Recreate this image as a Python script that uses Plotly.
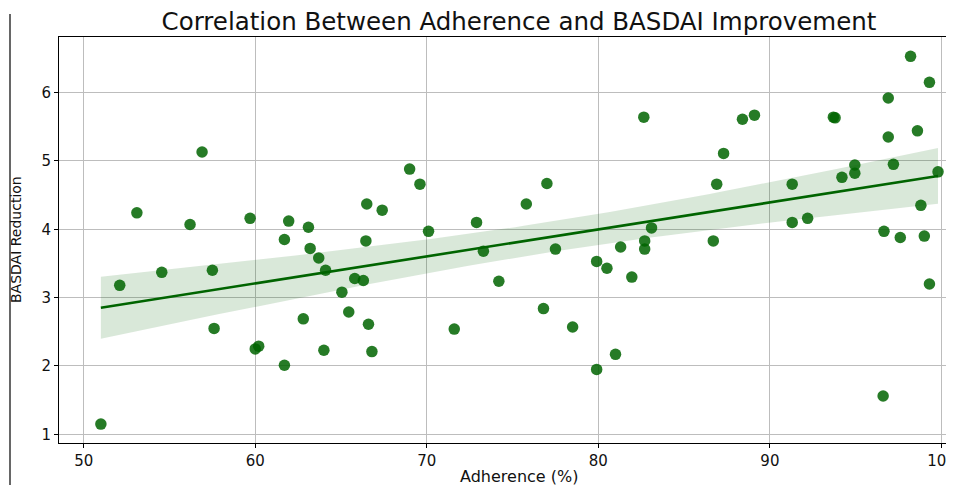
import numpy as np
import plotly.graph_objects as go

# Adherence (%) and BASDAI reduction
adherence = [51.0, 52.1, 53.1, 54.55, 56.2, 56.9, 57.5, 57.6, 59.7, 60.0,
             60.2, 61.7, 61.7, 61.95, 62.8, 63.1, 63.2, 63.7, 64.0, 64.1,
             65.05, 65.45, 65.8, 66.3, 66.45, 66.5, 66.6, 66.8, 67.4, 69.0,
             69.6, 70.1, 71.6, 72.9, 73.3, 74.2, 75.8, 76.8, 77.0, 77.5,
             78.5, 79.9, 79.9, 80.5, 81.0, 81.3, 81.95, 82.65, 82.7, 82.7,
             83.1, 86.7, 86.9, 87.3, 88.4, 89.1, 91.3, 91.3, 92.2, 93.7,
             93.8, 94.2, 94.95, 94.95, 96.6, 96.65, 96.9, 96.9, 97.2, 97.6,
             98.2, 98.6, 98.8, 99.0, 99.3, 99.3, 99.8]
basdai = [1.15, 3.18, 4.24, 3.37, 4.07, 5.13, 3.40, 2.55, 4.16, 2.25,
          2.29, 2.01, 3.85, 4.12, 2.69, 4.03, 3.72, 3.58, 2.23, 3.40,
          3.08, 2.79, 3.28, 3.25, 3.83, 4.37, 2.61, 2.21, 4.28, 4.88,
          4.66, 3.97, 2.54, 4.10, 3.68, 3.24, 4.37, 2.84, 4.67, 3.71,
          2.57, 3.53, 1.95, 3.43, 2.17, 3.74, 3.30, 5.64, 3.71, 3.83,
          4.02, 3.83, 4.66, 5.11, 5.61, 5.67, 4.10, 4.66, 4.16, 5.64,
          5.63, 4.76, 4.94, 4.82, 1.56, 3.97, 5.92, 5.35, 4.95, 3.88,
          6.53, 5.44, 4.35, 3.90, 3.20, 6.15, 4.84]

x_ticks = [50, 60, 70, 80, 90, 100]
y_ticks = [1, 2, 3, 4, 5, 6]

title_text = "Correlation Between Adherence and BASDAI Improvement"
x_label = "Adherence (%)"
y_label = "BASDAI Reduction"

# Linear regression fit with 95% confidence band (as seaborn regplot)
xa = np.array(adherence)
ya = np.array(basdai)
n = len(xa)
slope, intercept = np.polyfit(xa, ya, 1)
grid = np.linspace(xa.min(), xa.max(), 100)
fit = intercept + slope * grid
resid = ya - (intercept + slope * xa)
s = np.sqrt(np.sum(resid ** 2) / (n - 2))
sxx = np.sum((xa - xa.mean()) ** 2)
se = s * np.sqrt(1.0 / n + (grid - xa.mean()) ** 2 / sxx)
t_crit = 1.992
upper = fit + t_crit * se
lower = fit - t_crit * se

fig = go.Figure()
fig.add_trace(go.Scatter(
    x=np.concatenate([grid, grid[::-1]]),
    y=np.concatenate([upper, lower[::-1]]),
    fill="toself", fillcolor="rgba(0,100,0,0.15)",
    line=dict(width=0), mode="lines", hoverinfo="skip", showlegend=False))
fig.add_trace(go.Scatter(
    x=adherence, y=basdai, mode="markers",
    marker=dict(size=11.5, color="rgba(0,100,0,0.85)", line=dict(width=0)),
    showlegend=False))
fig.add_trace(go.Scatter(
    x=grid, y=fit, mode="lines",
    line=dict(color="#006400", width=2.6), showlegend=False))

OFF = 8  # page body margin offset
W, H = 954, 485
L = 59 - OFF
T = 37 - OFF
R = OFF
B = H - (443 - OFF)
pw = W - L - R
ph = H - T - B
base = H - B  # figure pixel of plot bottom


def px_x(sx):
    return (sx - OFF - L) / pw


def px_y(sy):
    return (base - (sy - OFF)) / ph


fig.update_layout(
    width=W, height=H,
    margin=dict(l=L, r=R, t=T, b=B, autoexpand=False),
    paper_bgcolor="white", plot_bgcolor="white",
    font=dict(family="DejaVu Sans", color="#111111", size=14),
    title=dict(text=title_text, x=(519 - OFF) / W, xanchor="center",
               y=1 - (21 - OFF) / H, yanchor="middle",
               xref="container", yref="container",
               font=dict(size=24.5, family="DejaVu Sans", color="#111111")),
    xaxis=dict(range=[48.56, 48.56 + pw / 17.155], tickvals=x_ticks,
               showgrid=True, gridcolor="#bdbdbd", gridwidth=1,
               showline=True, linecolor="black", linewidth=1, mirror=True,
               ticks="outside", ticklen=4, tickcolor="black",
               tickfont=dict(size=15), zeroline=False, automargin=False),
    yaxis=dict(range=[0.873, 0.873 + ph / 68.35], tickvals=y_ticks,
               showgrid=True, gridcolor="#bdbdbd", gridwidth=1,
               showline=True, linecolor="black", linewidth=1, mirror=False,
               ticks="outside", ticklen=4, tickcolor="black",
               tickfont=dict(size=15), zeroline=False, automargin=False),
)

fig.add_annotation(text=x_label, xref="paper", yref="paper",
                   x=px_x(519), y=px_y(476),
                   xanchor="center", yanchor="middle", showarrow=False,
                   font=dict(size=16, family="DejaVu Sans", color="#111111"))
fig.add_annotation(text=y_label, xref="paper", yref="paper",
                   x=px_x(16), y=px_y(240), textangle=-90,
                   xanchor="center", yanchor="middle", showarrow=False,
                   font=dict(size=14, family="DejaVu Sans", color="#111111"))

fig.add_shape(type="line", xref="paper", yref="paper",
              x0=px_x(10), x1=px_x(10), y0=px_y(14), y1=px_y(493),
              line=dict(color="black", width=1.2))

fig.write_html("out.html")
